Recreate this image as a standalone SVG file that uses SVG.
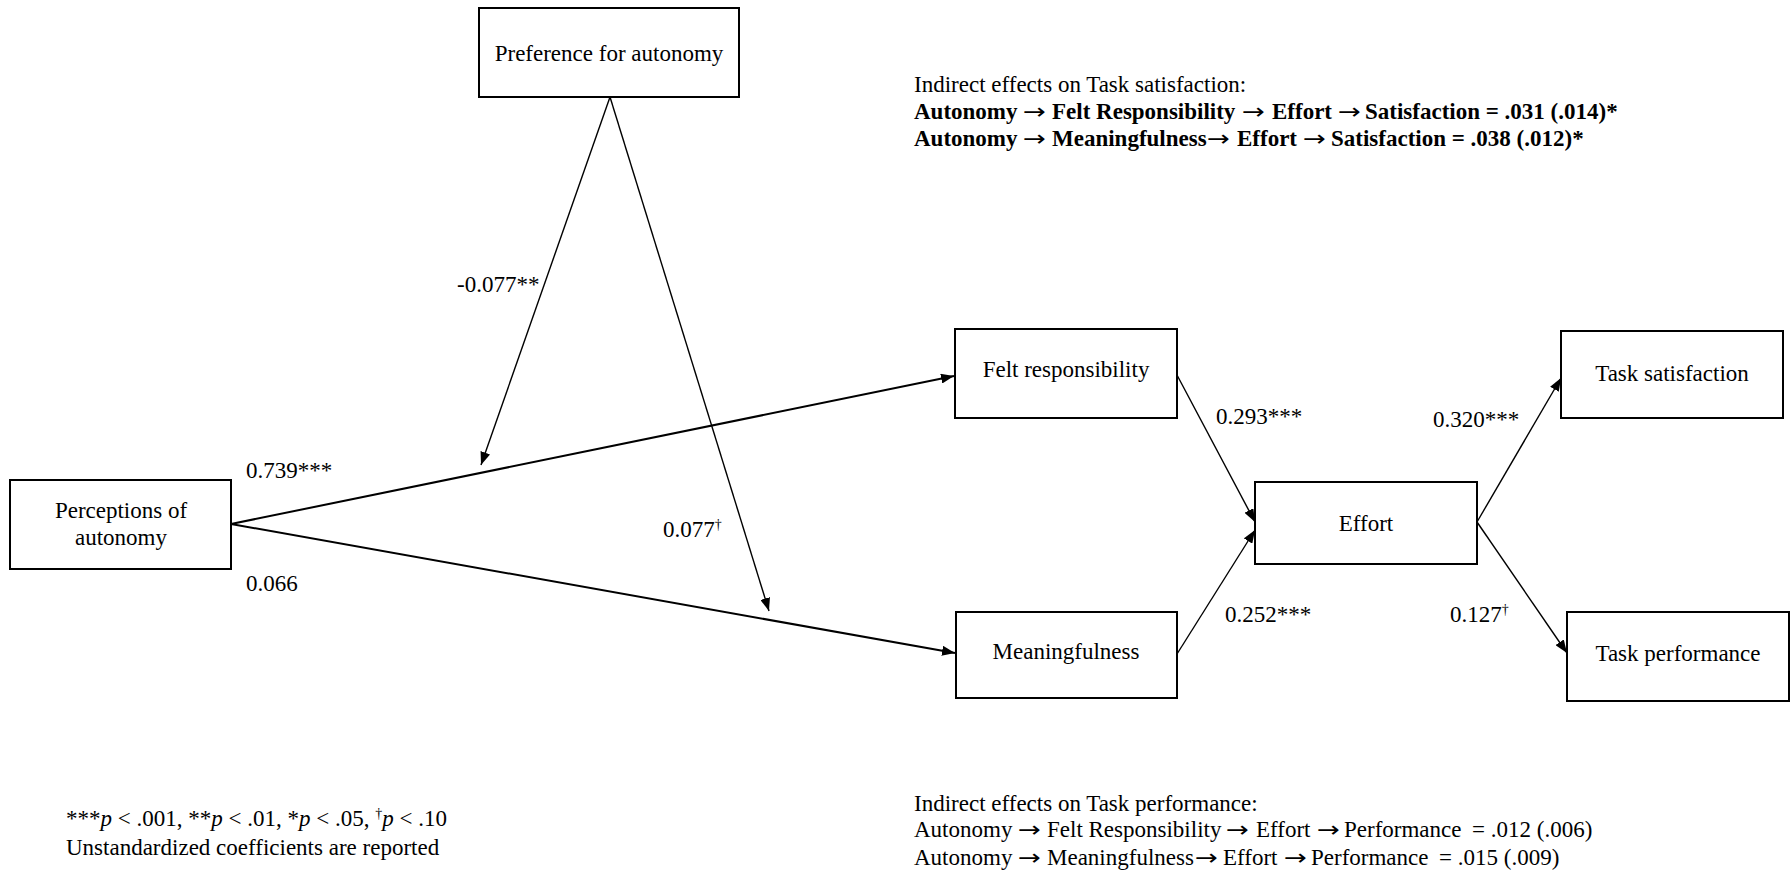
<svg xmlns="http://www.w3.org/2000/svg" width="1792" height="871" viewBox="0 0 1792 871">
<style>
text{font-family:"Liberation Serif","Times New Roman",serif;font-size:23px;fill:#000}
.box{fill:#fff;stroke:#000;stroke-width:2}
.c{text-anchor:middle}
.ln{fill:none;stroke:#000;stroke-width:1.4}
.lt{fill:none;stroke:#000;stroke-width:2}
.b{font-weight:bold}
.sup{font-size:14px}
text.ar{font-family:"DejaVu Sans",sans-serif;font-size:22px;font-weight:normal}
</style>
<defs>
<marker id="ah" markerUnits="userSpaceOnUse" markerWidth="13" markerHeight="10" refX="13" refY="5" orient="auto">
<path d="M0,0 L13,5 L0,10 z" fill="#000"/>
</marker>
</defs>
<rect width="1792" height="871" fill="#fff"/>
<g id="connectors">
<line class="ln" x1="610" y1="97" x2="481" y2="465" marker-end="url(#ah)"/>
<line class="ln" x1="610" y1="97" x2="769" y2="611" marker-end="url(#ah)"/>
<line class="lt" x1="231" y1="524" x2="954" y2="376" marker-end="url(#ah)"/>
<line class="lt" x1="231" y1="524" x2="955" y2="653" marker-end="url(#ah)"/>
<line class="ln" x1="1177" y1="375" x2="1255" y2="522" marker-end="url(#ah)"/>
<line class="ln" x1="1177" y1="654" x2="1255" y2="530" marker-end="url(#ah)"/>
<line class="ln" x1="1477" y1="522" x2="1561" y2="378" marker-end="url(#ah)"/>
<line class="ln" x1="1477" y1="522" x2="1567" y2="653" marker-end="url(#ah)"/>
</g>
<g id="labels">
<text x="457" y="292">-0.077**</text>
<text x="246" y="478">0.739***</text>
<text x="663" y="537">0.077<tspan class="sup" dy="-8">†</tspan></text>
<text x="246" y="591">0.066</text>
<text x="1216" y="424">0.293***</text>
<text x="1433" y="427">0.320***</text>
<text x="1225" y="622">0.252***</text>
<text x="1450" y="622">0.127<tspan class="sup" dy="-8">†</tspan></text>
</g>
<g id="node-preference">
<rect class="box" x="479" y="8" width="260" height="89"/>
<text class="c" x="609" y="61">Preference for autonomy</text>
</g>
<g id="node-perceptions">
<rect class="box" x="10" y="480" width="221" height="89"/>
<text class="c" x="121" y="518">Perceptions of</text>
<text class="c" x="121" y="545">autonomy</text>
</g>
<g id="node-felt">
<rect class="box" x="955" y="329" width="222" height="89"/>
<text class="c" x="1066" y="377">Felt responsibility</text>
</g>
<g id="node-meaning">
<rect class="box" x="956" y="612" width="221" height="86"/>
<text class="c" x="1066" y="659">Meaningfulness</text>
</g>
<g id="node-effort">
<rect class="box" x="1255" y="482" width="222" height="82"/>
<text class="c" x="1366" y="531">Effort</text>
</g>
<g id="node-satisfaction">
<rect class="box" x="1561" y="331" width="222" height="87"/>
<text class="c" x="1672" y="381">Task satisfaction</text>
</g>
<g id="node-performance">
<rect class="box" x="1567" y="612" width="222" height="89"/>
<text class="c" x="1678" y="661">Task performance</text>
</g>
<g id="notes">
<text x="914" y="92">Indirect effects on Task satisfaction:</text>
<text class="b" y="119"><tspan x="914">Autonomy</tspan><tspan x="1052">Felt Responsibility</tspan><tspan x="1272">Effort</tspan><tspan x="1365">Satisfaction = .031 (.014)*</tspan></text>
<text class="b" y="146"><tspan x="914">Autonomy</tspan><tspan x="1052">Meaningfulness</tspan><tspan x="1237">Effort</tspan><tspan x="1331">Satisfaction = .038 (.012)*</tspan></text>
<text x="914" y="811">Indirect effects on Task performance:</text>
<text y="837"><tspan x="914">Autonomy</tspan><tspan x="1047">Felt Responsibility</tspan><tspan x="1256">Effort</tspan><tspan x="1344">Performance</tspan><tspan x="1472">= .012 (.006)</tspan></text>
<text y="865"><tspan x="914">Autonomy</tspan><tspan x="1047">Meaningfulness</tspan><tspan x="1223">Effort</tspan><tspan x="1311">Performance</tspan><tspan x="1439">= .015 (.009)</tspan></text>
<text x="66" y="826">***<tspan font-style="italic">p</tspan> &lt; .001, **<tspan font-style="italic">p</tspan> &lt; .01, *<tspan font-style="italic">p</tspan> &lt; .05, <tspan class="sup" dy="-8">†</tspan><tspan font-style="italic" dy="8">p</tspan> &lt; .10</text>
<text x="66" y="855">Unstandardized coefficients are reported</text>
</g>
<g id="note-arrows">
<text class="ar" transform="translate(1023,119) scale(1.25,1)">→</text>
<text class="ar" transform="translate(1242,119) scale(1.25,1)">→</text>
<text class="ar" transform="translate(1338,119) scale(1.25,1)">→</text>
<text class="ar" transform="translate(1023,146) scale(1.25,1)">→</text>
<text class="ar" transform="translate(1207,146) scale(1.25,1)">→</text>
<text class="ar" transform="translate(1303,146) scale(1.25,1)">→</text>
<text class="ar" transform="translate(1018,837) scale(1.25,1)">→</text>
<text class="ar" transform="translate(1226,837) scale(1.25,1)">→</text>
<text class="ar" transform="translate(1317,837) scale(1.25,1)">→</text>
<text class="ar" transform="translate(1018,865) scale(1.25,1)">→</text>
<text class="ar" transform="translate(1195,865) scale(1.25,1)">→</text>
<text class="ar" transform="translate(1284,865) scale(1.25,1)">→</text>
</g>
</svg>
